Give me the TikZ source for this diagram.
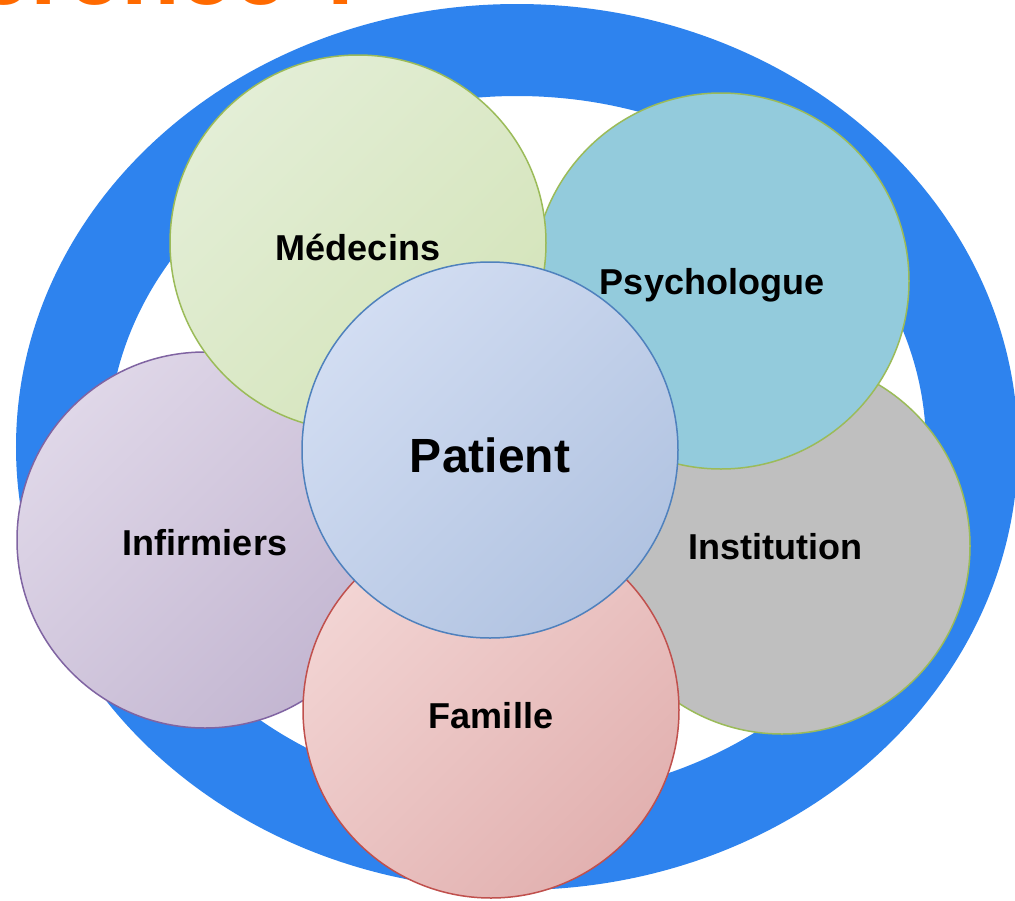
\documentclass[tikz,border=0pt]{standalone}
\usepackage{fontspec}
\setmainfont{Liberation Sans}
\usepackage{tikz}

\definecolor{ringblue}{HTML}{2E83EE}
\definecolor{titleorange}{HTML}{FF6A00}
\definecolor{medlight}{HTML}{E3EED6}
\definecolor{meddark}{HTML}{D4E4BA}
\definecolor{greenline}{HTML}{9BBB59}
\definecolor{psyfill}{HTML}{93CBDC}
\definecolor{instfill}{HTML}{BFBFBF}
\definecolor{famlight}{HTML}{F2D4D3}
\definecolor{famdark}{HTML}{E2B1B0}
\definecolor{famline}{HTML}{C0504D}
\definecolor{inflight}{HTML}{DFD7E8}
\definecolor{infdark}{HTML}{C3B6D1}
\definecolor{infline}{HTML}{8064A2}
\definecolor{patlight}{HTML}{D2DDF2}
\definecolor{patdark}{HTML}{B1C3E1}
\definecolor{patline}{HTML}{4F81BD}

\begin{document}
\begin{tikzpicture}[x = 1pt, y = -1pt,
		member/.style = {circle, inner sep = 0pt, minimum size = 376pt, line width = 1.5pt},
		tag/.style = {inner sep = 0pt, font = \bfseries\fontsize{36}{42}\selectfont},
		patient/.style = {member, draw = patline, top color = patlight, bottom color = patdark,
			shading angle = 45}]
		
		\useasboundingbox (0,0) rectangle (1015,900);
		\fill [white] (0,0) rectangle (1015,900);
		
		% title, cut by the top edge
		\node [anchor = base east, inner sep = 0pt, text = titleorange,
			font = \bfseries\fontsize{96}{110}\selectfont] (title) at (372,4) {Cohérence ?};
		
		% outer ring
		\draw [ringblue, line width = 92pt] (517,447) ellipse [x radius = 455, y radius = 397];
		
		\node [member, draw = greenline, fill = instfill] (inst) at (782,546) {};
		\node [member, draw = greenline, fill = psyfill] (psy) at (721,281) {};
		\node [member, draw = infline, top color = inflight, bottom color = infdark,
			shading angle = 45] (inf) at (205,540) {};
		\node [member, draw = greenline, top color = medlight, bottom color = meddark,
			shading angle = 45] (med) at (358,243) {};
		\node [member, draw = famline, top color = famlight, bottom color = famdark,
			shading angle = 45] (fam) at (491,710) {};
		\node [patient] (pat) at (490,450) {};
		
		% labels
		\node [tag] (medtext) at (358,247) {Médecins};
		\node [tag] (psytext) at (712,285) {Psychologue};
		\node [tag] (insttext) at (775,547) {Institution};
		\node [tag] (inftext) at (205,543) {Infirmiers};
		\node [tag] (famtext) at (491,716) {Famille};
		\node [tag, font = \bfseries\fontsize{48}{56}\selectfont] (pattext) at (490,455) {Patient};
		
		\end{tikzpicture}
\end{document}
